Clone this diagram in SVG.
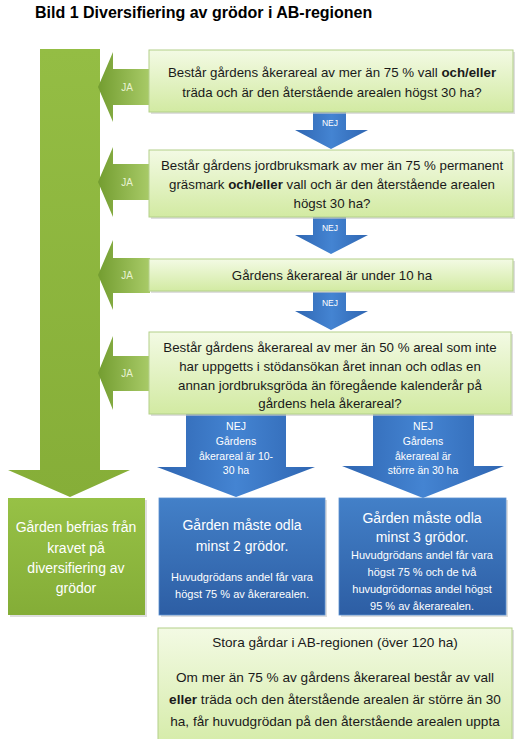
<svg xmlns="http://www.w3.org/2000/svg" width="525" height="739" viewBox="0 0 525 739">
<style>
text{font-family:"Liberation Sans",Arial,sans-serif;}
.title{font-size:16px;font-weight:bold;fill:#000;}
.q{font-size:13.3px;fill:#1a1a1a;text-anchor:middle;}
.b{font-weight:bold;}
.ja{font-size:10px;fill:#e8f2d2;text-anchor:middle;}
.nej{font-size:8.5px;fill:#fff;text-anchor:middle;}
.lab{font-size:10.5px;fill:#fff;text-anchor:middle;}
.big{font-size:14px;fill:#fff;text-anchor:middle;}
.sm{font-size:11px;fill:#fff;text-anchor:middle;}
.st{font-size:13.6px;fill:#1a1a1a;text-anchor:middle;}
.gbox{fill:url(#gq);stroke:#b3d08a;stroke-width:1;}
.shadow{fill:#c8c8c8;opacity:0.6;}
.bbox{fill:url(#bb);stroke:#5a8fd0;stroke-width:0.8;}
.ja-arrow{fill:url(#gj);}
.nej-arrow{fill:url(#ba);}
</style>
<defs>
<linearGradient id="gq" x1="0" y1="0" x2="0" y2="1">
<stop offset="0" stop-color="#f3fae4"/>
<stop offset="1" stop-color="#d2eaa2"/>
</linearGradient>
<linearGradient id="gj" x1="0" y1="0" x2="1" y2="0">
<stop offset="0" stop-color="#739d30"/>
<stop offset="1" stop-color="#a9cb68"/>
</linearGradient>
<linearGradient id="gv" x1="0" y1="0" x2="0" y2="1">
<stop offset="0" stop-color="#94bd44"/>
<stop offset="1" stop-color="#86ae38"/>
</linearGradient>
<linearGradient id="ba" x1="0" y1="0" x2="1" y2="0">
<stop offset="0" stop-color="#2f66b2"/>
<stop offset="0.5" stop-color="#4484d2"/>
<stop offset="1" stop-color="#2f66b2"/>
</linearGradient>
<linearGradient id="bb" x1="0" y1="0" x2="0" y2="1">
<stop offset="0" stop-color="#4380c8"/>
<stop offset="1" stop-color="#2d5ea4"/>
</linearGradient>
<linearGradient id="gb" x1="0" y1="0" x2="0" y2="1">
<stop offset="0" stop-color="#97c146"/>
<stop offset="1" stop-color="#84ad37"/>
</linearGradient>
</defs>

<text class="title" x="35" y="18">Bild 1 Diversifiering av grödor i AB-regionen</text>

<g id="connectors">
  <!-- main green down arrow -->
  <path id="green-down" d="M40,49 H100 V470 H130 L70,497 L8,470 H40 Z" fill="url(#gv)"/>
  <!-- JA arrows -->
  <path class="ja-arrow" d="M98,87 L113,52 V69 H150 V105 H113 V122 Z"/>
  <path class="ja-arrow" d="M98,182 L113,147 V164 H150 V200 H113 V217 Z"/>
  <path class="ja-arrow" d="M98,275 L113,240 V258 H150 V293 H113 V310 Z"/>
  <path class="ja-arrow" d="M98,373 L113,336 V356 H150 V391 H113 V410 Z"/>
  <text class="ja" x="127" y="91">JA</text>
  <text class="ja" x="127" y="186">JA</text>
  <text class="ja" x="127" y="279">JA</text>
  <text class="ja" x="127" y="377">JA</text>
  <!-- NEJ arrows -->
  <path class="nej-arrow" d="M313,112 H346 V130 H368 L331,149 L295,130 H313 Z"/>
  <path class="nej-arrow" d="M313,217 H346 V235 H368 L331,254 L295,235 H313 Z"/>
  <path class="nej-arrow" d="M313,292 H346 V311 H368 L331,330 L295,311 H313 Z"/>
  <text class="nej" x="330" y="126">NEJ</text>
  <text class="nej" x="330" y="231">NEJ</text>
  <text class="nej" x="330" y="306">NEJ</text>
  <!-- big blue arrows -->
  <path class="nej-arrow" d="M186,414 H286 V467 H315 L236,497 L157,467 H186 Z"/>
  <path class="nej-arrow" d="M373,414 H474 V466 H504 L423,498 L342,466 H373 Z"/>
  <text class="lab" x="236" y="430">NEJ</text>
  <text class="lab" x="236" y="445">Gårdens</text>
  <text class="lab" x="236" y="460">åkerareal är 10-</text>
  <text class="lab" x="236" y="474">30 ha</text>
  <text class="lab" x="423" y="430">NEJ</text>
  <text class="lab" x="423" y="445">Gårdens</text>
  <text class="lab" x="423" y="460">åkerareal är</text>
  <text class="lab" x="423" y="474">större än 30 ha</text>
</g>

<g id="q1">
  <rect class="shadow" x="151" y="52" width="364" height="62"/>
  <rect class="gbox" x="149" y="50" width="364" height="62"/>
  <text class="q" x="332" y="77">Består gårdens åkerareal av mer än 75 % vall <tspan class="b">och/eller</tspan></text>
  <text class="q" x="332" y="97">träda och är den återstående arealen högst 30 ha?</text>
</g>

<g id="q2">
  <rect class="shadow" x="151" y="152" width="364" height="67"/>
  <rect class="gbox" x="149" y="150" width="364" height="67"/>
  <text class="q" x="332" y="170">Består gårdens jordbruksmark av mer än 75 % permanent</text>
  <text class="q" x="332" y="189">gräsmark <tspan class="b">och/eller</tspan> vall och är den återstående arealen</text>
  <text class="q" x="332" y="208">högst 30 ha?</text>
</g>

<g id="q3">
  <rect class="shadow" x="151" y="261" width="364" height="32"/>
  <rect class="gbox" x="149" y="259" width="364" height="32"/>
  <text class="q" x="332" y="280">Gårdens åkerareal är under 10 ha</text>
</g>

<g id="q4">
  <rect class="shadow" x="151" y="334" width="362" height="82"/>
  <rect class="gbox" x="149" y="332" width="362" height="82"/>
  <text class="q" x="330" y="352">Består gårdens åkerareal av mer än 50 % areal som inte</text>
  <text class="q" x="330" y="371">har uppgetts i stödansökan året innan och odlas en</text>
  <text class="q" x="330" y="390">annan jordbruksgröda än föregående kalenderår på</text>
  <text class="q" x="330" y="408">gårdens hela åkerareal?</text>
</g>

<g id="exempt">
  <rect class="shadow" x="10" y="500" width="137" height="117"/>
  <rect x="8" y="498" width="137" height="117" fill="url(#gb)"/>
  <text class="big" x="76" y="532">Gården befrias från</text>
  <text class="big" x="76" y="553">kravet på</text>
  <text class="big" x="76" y="573">diversifiering av</text>
  <text class="big" x="76" y="593">grödor</text>
</g>

<g id="two-crops">
  <rect class="shadow" x="161" y="500" width="166" height="117"/>
  <rect class="bbox" x="159" y="498" width="166" height="117"/>
  <text class="big" x="242" y="530">Gården måste odla</text>
  <text class="big" x="242" y="551">minst 2 grödor.</text>
  <text class="sm" x="242" y="581">Huvudgrödans andel får vara</text>
  <text class="sm" x="242" y="598">högst 75 % av åkerarealen.</text>
</g>

<g id="three-crops">
  <rect class="shadow" x="341" y="500" width="167" height="117"/>
  <rect class="bbox" x="339" y="498" width="167" height="117"/>
  <text class="big" x="422" y="523">Gården måste odla</text>
  <text class="big" x="422" y="542">minst 3 grödor.</text>
  <text class="sm" x="422" y="559">Huvudgrödans andel får vara</text>
  <text class="sm" x="422" y="576">högst 75 % och de två</text>
  <text class="sm" x="422" y="593">huvudgrödornas andel högst</text>
  <text class="sm" x="422" y="610">95 % av åkerarealen.</text>
</g>

<g id="large-farms">
  <rect class="shadow" x="160" y="630" width="354" height="130"/>
  <rect class="gbox" x="158" y="628" width="354" height="130"/>
  <text class="st" x="335" y="647">Stora gårdar i AB-regionen (över 120 ha)</text>
  <text class="st" x="335" y="682">Om mer än 75 % av gårdens åkerareal består av vall</text>
  <text class="st" x="335" y="704"><tspan class="b">eller</tspan> träda och den återstående arealen är större än 30</text>
  <text class="st" x="335" y="726">ha, får huvudgrödan på den återstående arealen uppta</text>
</g>
</svg>
